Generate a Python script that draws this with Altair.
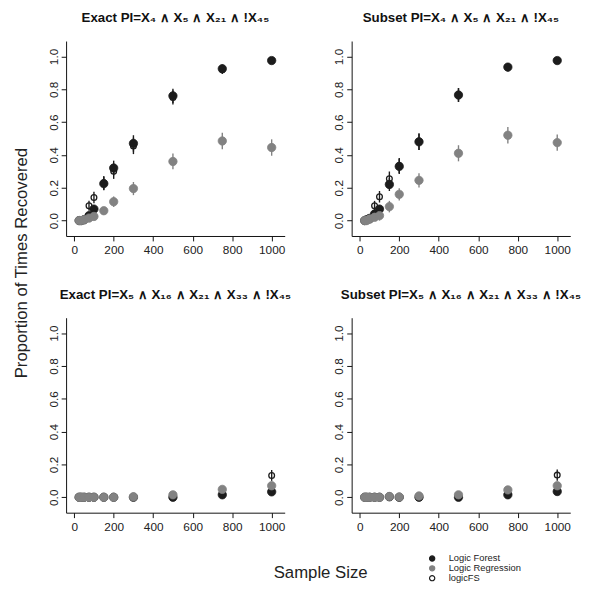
import altair as alt
import pandas as pd

sizes = [25, 35, 50, 75, 100, 150, 200, 300, 500, 750, 1000]
methods = ["Logic Forest", "Logic Regression", "logicFS"]
titles = [
    "Exact PI=X\u2084 \u2227 X\u2085 \u2227 X\u2082\u2081 \u2227 !X\u2084\u2085",
    "Subset PI=X\u2084 \u2227 X\u2085 \u2227 X\u2082\u2081 \u2227 !X\u2084\u2085",
    "Exact PI=X\u2085 \u2227 X\u2081\u2086 \u2227 X\u2082\u2081 \u2227 X\u2083\u2083 \u2227 !X\u2084\u2085",
    "Subset PI=X\u2085 \u2227 X\u2081\u2086 \u2227 X\u2082\u2081 \u2227 X\u2083\u2083 \u2227 !X\u2084\u2085",
]

# panel 1: Exact, 4-way
p1_lf = [0.0, 0.0, 0.005, 0.03, 0.07, 0.225, 0.32, 0.47, 0.76, 0.925, 0.975]
p1_lf_err = [0.0, 0.0, 0.007, 0.017, 0.025, 0.04, 0.045, 0.05, 0.043, 0.026, 0.015]
p1_lr = [0.0, 0.0, 0.005, 0.015, 0.025, 0.06, 0.115, 0.195, 0.36, 0.485, 0.445]
p1_lr_err = [0.0, 0.0, 0.007, 0.012, 0.015, 0.022, 0.032, 0.04, 0.048, 0.05, 0.05]
p1_fs = [0.0, 0.0, 0.01, 0.09, 0.14, 0.23, 0.30, 0.455, 0.75, 0.92, 0.975]
p1_fs_err = [0.0, 0.0, 0.01, 0.03, 0.035, 0.042, 0.046, 0.05, 0.043, 0.027, 0.015]

# panel 2: Subset, 4-way
p2_lf = [0.0, 0.005, 0.01, 0.04, 0.07, 0.22, 0.33, 0.48, 0.765, 0.935, 0.975]
p2_lf_err = [0.0, 0.007, 0.01, 0.02, 0.025, 0.04, 0.047, 0.05, 0.042, 0.025, 0.015]
p2_lr = [0.0, 0.0, 0.01, 0.02, 0.03, 0.085, 0.16, 0.245, 0.41, 0.52, 0.475]
p2_lr_err = [0.0, 0.0, 0.01, 0.03, 0.03, 0.035, 0.037, 0.043, 0.049, 0.05, 0.05]
p2_fs = [0.0, 0.005, 0.02, 0.09, 0.145, 0.255, 0.335, 0.48, 0.765, 0.935, 0.975]
p2_fs_err = [0.0, 0.007, 0.014, 0.03, 0.035, 0.044, 0.047, 0.05, 0.042, 0.025, 0.015]

# panel 3: Exact, 5-way
p3_lf = [0.0, 0.0, 0.0, 0.0, 0.0, 0.0, 0.0, 0.0, 0.0, 0.015, 0.033]
p3_lf_err = [0.0, 0.0, 0.0, 0.0, 0.0, 0.0, 0.0, 0.0, 0.0, 0.012, 0.018]
p3_lr = [0.0, 0.0, 0.0, 0.0, 0.0, 0.0, 0.0, 0.003, 0.015, 0.048, 0.07]
p3_lr_err = [0.0, 0.0, 0.0, 0.0, 0.0, 0.0, 0.0, 0.005, 0.012, 0.021, 0.025]
p3_fs = [0.0, 0.0, 0.0, 0.0, 0.0, 0.0, 0.0, 0.0, 0.0, 0.02, 0.133]
p3_fs_err = [0.0, 0.0, 0.0, 0.0, 0.0, 0.0, 0.0, 0.0, 0.0, 0.014, 0.033]

# panel 4: Subset, 5-way
p4_lf = [0.0, 0.0, 0.0, 0.0, 0.0, 0.003, 0.0, 0.0, 0.0, 0.015, 0.035]
p4_lf_err = [0.0, 0.0, 0.0, 0.0, 0.0, 0.005, 0.0, 0.0, 0.0, 0.012, 0.018]
p4_lr = [0.0, 0.0, 0.0, 0.0, 0.0, 0.005, 0.002, 0.008, 0.015, 0.045, 0.07]
p4_lr_err = [0.0, 0.0, 0.0, 0.0, 0.0, 0.007, 0.004, 0.009, 0.012, 0.021, 0.025]
p4_fs = [0.0, 0.0, 0.0, 0.0, 0.0, 0.0, 0.0, 0.0, 0.0, 0.02, 0.135]
p4_fs_err = [0.0, 0.0, 0.0, 0.0, 0.0, 0.0, 0.0, 0.0, 0.0, 0.014, 0.034]

panel_data = [
    [(p1_lf, p1_lf_err), (p1_lr, p1_lr_err), (p1_fs, p1_fs_err)],
    [(p2_lf, p2_lf_err), (p2_lr, p2_lr_err), (p2_fs, p2_fs_err)],
    [(p3_lf, p3_lf_err), (p3_lr, p3_lr_err), (p3_fs, p3_fs_err)],
    [(p4_lf, p4_lf_err), (p4_lr, p4_lr_err), (p4_fs, p4_fs_err)],
]

fill_range = ["#1c1c1c", "#828282", "transparent"]
stroke_range = ["#1c1c1c", "#828282", "#1c1c1c"]
col_of = dict(zip(methods, stroke_range))

FONT = "Liberation Sans"
W, H = 222, 198
XDOM = [-41, 1066]
YDOM = [-0.094, 1.094]


def make_panel(i):
    rows = []
    for m, (vals, errs) in zip(methods, panel_data[i]):
        for n, v, e in zip(sizes, vals, errs):
            rows.append({"n": n, "p": v, "lo": max(v - e, 0.0), "hi": v + e,
                         "method": m, "col": col_of[m]})
    df = pd.DataFrame(rows)

    x_axis_kwargs = dict(values=[0, 200, 400, 600, 800, 1000], format="d", title=None,
                         labelOverlap=False)
    y_axis_kwargs = dict(values=[0, 0.2, 0.4, 0.6, 0.8, 1.0], format=".1f", title=None,
                         labelOverlap=False, labelBound=False, labelFlush=False)
    if i == 0:
        y_axis_kwargs.update(title="Proportion of Times Recovered", titleX=-45, titleY=225,
                             titleAngle=270, titleAlign="center", titleBaseline="middle",
                             titleFontSize=17, titleFontWeight="normal", titleFont=FONT,
                             titleColor="#222222")
    if i == 2:
        x_axis_kwargs.update(title="Sample Size", titleX=258, titleY=61,
                             titleAlign="center", titleBaseline="middle",
                             titleFontSize=17, titleFontWeight="normal", titleFont=FONT,
                             titleColor="#222222")

    xscale = alt.Scale(domain=XDOM, nice=False, zero=False)
    yscale = alt.Scale(domain=YDOM, nice=False, zero=False)
    xaxis = alt.Axis(**x_axis_kwargs)
    yaxis = alt.Axis(**y_axis_kwargs)
    xenc = alt.X("n:Q", scale=xscale, axis=xaxis)
    yenc = alt.Y("p:Q", scale=yscale, axis=yaxis)

    fill_scale = alt.Scale(domain=methods, range=fill_range)
    stroke_scale = alt.Scale(domain=methods, range=stroke_range)
    leg = alt.Legend(title=None, orient="none", legendX=367, legendY=522)

    rules = alt.Chart(df).mark_rule(strokeWidth=1.4).encode(
        x=xenc, y=alt.Y("lo:Q", scale=yscale, axis=yaxis), y2="hi:Q",
        stroke=alt.Stroke("col:N", scale=None),
    )
    opened = alt.Chart(df).transform_filter(alt.datum.method == "logicFS").mark_point(
        shape="circle", filled=True, size=34, strokeWidth=1.3, opacity=1
    ).encode(
        x=xenc, y=yenc,
        fill=alt.Fill("method:N", scale=fill_scale, legend=leg),
        stroke=alt.Stroke("method:N", scale=stroke_scale, legend=leg),
    )
    filled = alt.Chart(df).transform_filter(alt.datum.method != "logicFS").mark_point(
        shape="circle", filled=True, size=72, strokeWidth=0.8, opacity=1
    ).encode(
        x=xenc, y=yenc,
        fill=alt.Fill("method:N", scale=fill_scale, legend=leg),
        stroke=alt.Stroke("method:N", scale=stroke_scale, legend=leg),
    )
    return alt.layer(rules, opened, filled).properties(
        width=W, height=H,
        title=alt.TitleParams(titles[i], font=FONT, fontSize=13.5, fontWeight="bold",
                              anchor="middle", offset=17, color="#111111"),
    )


panels = [make_panel(i) for i in range(4)]

chart = alt.concat(
    *panels, columns=2, spacing={"row": 83, "column": 68}, bounds="flush"
).properties(
    padding={"left": 4, "top": -2, "right": 5, "bottom": 5}
).configure_view(stroke="transparent").configure_axis(
    grid=False, domainColor="#111111", domainWidth=1, tickColor="#111111",
    tickWidth=1, labelFont=FONT, labelFontSize=12, labelColor="#222222",
).configure_axisX(
    tickSize=5, labelPadding=4,
).configure_axisY(
    tickSize=5, labelPadding=1, labelAngle=-90, labelAlign="center", labelBaseline="bottom",
).configure_legend(
    labelFont=FONT, labelFontSize=9.5, labelColor="#222222", symbolSize=28,
    symbolStrokeWidth=1.2, rowPadding=0, clipHeight=7, labelOffset=12,
)

chart.save("out.html", embed_options={"renderer": "svg", "actions": False})
